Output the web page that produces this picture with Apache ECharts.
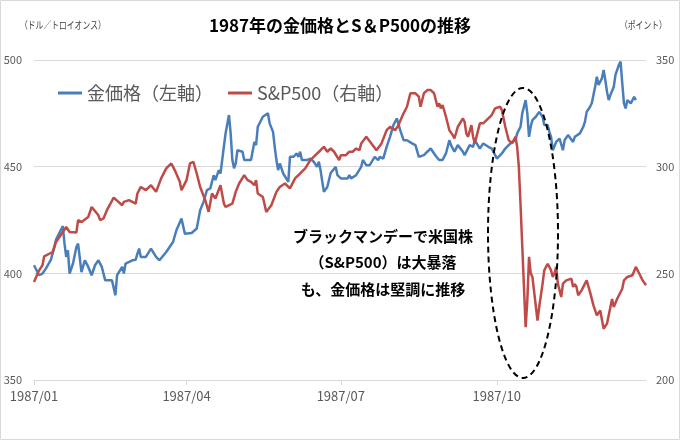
<!DOCTYPE html>
<html>
<head>
<meta charset="utf-8">
<script src="https://cdn.jsdelivr.net/npm/echarts@6/dist/echarts.min.js"></script>
<style>
html,body{margin:0;padding:0;background:#fff;}
#chart{width:680px;height:440px;}
</style>
</head>
<body>
<div id="chart"></div>
<script>
// ---- data ----
// day offsets counted from 1987/01/02 (first category)
const xTickIndex = [0, 90, 181, 273];
const xTickLabels = ['1987/01', '1987/04', '1987/07', '1987/10'];

const goldDay = [0,3,5,7,10,12,13,17,18,19,20,21,23,25,26,28,30,32,34,36,38,40,42,46,48,49,52,53,54,58,60,61,62,63,66,69,72,74,78,82,84,87,89,93,96,98,100,102,104,106,107,109,110,111,113,115,116,117,118,119,120,123,124,128,130,131,132,135,138,139,141,142,143,144,145,147,150,151,153,155,156,157,158,161,163,165,167,168,169,171,173,175,176,178,179,181,185,186,187,190,193,194,196,198,201,203,204,206,208,210,212,214,216,218,220,223,225,227,228,230,232,234,237,239,241,243,245,246,248,250,253,254,257,259,260,263,265,268,270,272,273,274,276,278,280,282,284,285,287,288,290,291,292,293,294,296,298,300,301,303,304,305,306,308,310,312,313,315,318,319,320,322,324,325,326,328,329,330,331,332,333,335,336,337,338,339,340,341,342,343,345,346,347,348,349,350,352,353,354,355];
const goldValue = [403.8,399.1,399.9,402.2,406.4,412.3,415.8,422.1,413.9,407.7,410.8,399.9,404.6,412.3,413.9,400.6,406.1,403.0,399.1,403.8,406.1,403.0,396.7,396.7,389.7,399.1,403.0,399.9,404.6,406.1,406.4,409.2,411.6,407.7,407.7,411.6,407.7,406.1,410.0,414.7,420.2,425.7,418.6,418.9,421.0,429.6,433.5,439.0,439.8,446.0,443.7,448.4,446.8,453.1,465.6,474.2,465.6,453.1,449.2,451.5,457.7,457.0,453.1,453.1,461.6,460.1,468.7,473.4,475.0,470.3,466.3,459.3,453.1,448.4,451.5,446.8,442.9,454.6,454.6,456.2,454.6,457.0,453.1,453.1,453.8,452.3,449.9,452.3,448.4,438.2,440.5,447.0,446.8,449.9,446.0,444.5,444.5,446.0,444.5,446.0,449.9,453.1,450.7,450.7,454.6,453.1,454.6,453.8,459.3,464.0,469.5,472.6,467.1,462.4,462.4,460.9,460.1,454.6,453.8,455.4,457.0,458.5,455.0,453.1,453.1,456.2,462.4,460.1,457.0,460.1,457.0,455.4,460.1,459.3,462.4,458.5,460.9,459.3,458.5,455.4,453.8,453.8,456.2,458.5,460.1,461.6,462.4,465.6,468.7,475.0,481.2,475.0,464.0,468.7,471.8,473.4,475.7,473.4,469.5,469.5,466.3,464.0,457.7,461.6,463.2,457.7,462.4,464.8,461.6,464.0,463.2,465.6,468.7,471.1,475.7,478.1,479.7,483.6,487.5,492.2,488.3,491.4,495.3,490.6,485.1,481.2,483.6,484.4,487.5,493.0,497.7,499.2,489.1,479.7,477.3,481.2,479.7,481.2,482.8,481.2];

const spDay = [0,3,5,6,11,13,17,19,21,25,26,28,32,34,38,39,41,43,47,48,52,53,56,60,61,63,66,69,72,75,78,81,83,86,87,90,92,94,96,98,101,103,105,107,110,112,113,117,119,121,124,126,128,130,131,132,135,137,138,140,143,145,148,151,154,157,160,163,166,169,171,173,175,177,180,181,184,186,188,190,192,193,196,199,202,205,208,210,213,215,218,220,222,225,227,228,230,232,234,236,238,239,240,241,243,245,247,248,250,253,254,255,256,258,259,260,261,263,265,268,270,272,275,276,278,280,282,283,284,285,286,287,290,291,292,293,294,297,298,299,300,301,302,303,304,305,306,307,308,309,311,312,314,317,318,319,320,321,323,325,326,328,330,332,334,336,338,340,341,342,344,347,348,350,353,355,357,359,361];
const spValue = [245.9,251.4,253.8,258.0,260.0,264.7,269.4,271.7,269.4,269.1,274.9,274.1,276.4,281.1,277.2,274.9,275.7,279.6,285.5,285.5,281.9,283.5,284.3,282.7,287.4,290.5,289.0,291.3,288.2,294.5,299.2,301.5,298.4,292.9,289.0,293.7,301.5,302.3,296.8,290.5,284.3,278.8,287.4,285.1,291.3,282.7,281.1,282.7,288.2,292.1,296.0,293.7,292.9,291.3,293.7,287.4,285.8,278.8,278.0,281.9,288.2,290.5,292.1,289.8,294.5,296.8,299.2,303.1,305.4,307.7,309.3,307.0,308.5,307.0,303.1,305.4,305.4,307.0,307.0,308.5,307.7,310.9,314.0,310.9,307.7,310.9,317.1,318.7,317.1,319.5,325.0,328.1,334.4,334.4,332.8,328.1,334.4,335.9,335.9,334.4,328.1,329.7,327.3,328.9,323.4,317.1,314.8,313.2,318.7,322.6,321.0,315.6,314.0,319.5,314.0,310.9,311.6,320.3,320.3,322.6,324.2,327.3,328.1,326.5,318.7,312.4,310.9,310.1,314.0,309.3,299.9,282.0,224.8,237.3,257.7,250.0,248.3,227.9,234.2,233.5,245.2,251.4,253.0,254.5,255.3,251.4,248.3,249.9,253.0,245.2,238.9,245.2,246.7,247.5,243.6,245.0,243.6,239.7,242.0,245.2,246.7,241.2,235.0,230.3,232.6,224.0,226.4,234.2,238.0,234.2,238.1,242.8,246.7,248.3,249.1,253.0,249.9,246.7,244.4];

// categories: every calendar day 1987/01/02 .. 1987/12/29
const categories = [];
(function () {
  const d = new Date(Date.UTC(1987, 0, 2));
  const end = Date.UTC(1987, 11, 29);
  while (d.getTime() <= end) {
    const m = String(d.getUTCMonth() + 1).padStart(2, '0');
    const dd = String(d.getUTCDate()).padStart(2, '0');
    categories.push('1987/' + m + '/' + dd);
    d.setUTCDate(d.getUTCDate() + 1);
  }
})();

function toSeries(days, vals) {
  const arr = new Array(categories.length).fill(null);
  days.forEach((d, i) => { arr[d] = vals[i]; });
  return arr;
}

const FONT = '"Noto Sans CJK JP", "Noto Sans", sans-serif';
const chart = echarts.init(document.getElementById('chart'), null, {renderer: 'canvas'});

const option = {
  backgroundColor: '#ffffff',
  animation: false,
  title: {
    text: '1987年の金価格とS＆P500の推移',
    left: 'center',
    top: 12,
    textStyle: {fontFamily: FONT, fontSize: 17, fontWeight: 'bold', color: '#000000'}
  },
  legend: {
    left: 53,
    top: 79,
    icon: 'rect',
    itemWidth: 24,
    itemHeight: 3,
    itemGap: 15,
    textStyle: {fontFamily: FONT, fontSize: 18, color: '#595959'},
    data: ['金価格（左軸）', 'S&P500（右軸）']
  },
  grid: {left: 34, right: 34, top: 60, bottom: 60, containLabel: false},
  xAxis: {
    type: 'category',
    data: categories,
    boundaryGap: false,
    axisLine: {lineStyle: {color: '#d9d9d9', width: 1}},
    axisTick: {
      show: true,
      length: 5,
      lineStyle: {color: '#d9d9d9'},
      interval: function (idx) { return xTickIndex.indexOf(idx) >= 0; }
    },
    axisLabel: {
      interval: function (idx) { return xTickIndex.indexOf(idx) >= 0; },
      formatter: function (v, idx) {
        const k = xTickIndex.indexOf(idx);
        return k >= 0 ? xTickLabels[k] : '';
      },
      fontFamily: FONT,
      fontSize: 13,
      color: '#595959',
      margin: 10
    },
    splitLine: {show: false}
  },
  yAxis: [
    {
      type: 'value', min: 350, max: 500, interval: 50,
      axisLine: {show: false}, axisTick: {show: false},
      axisLabel: {fontFamily: FONT, fontSize: 11, color: '#595959', margin: 12},
      splitLine: {lineStyle: {color: '#d9d9d9', width: 1}}
    },
    {
      type: 'value', min: 200, max: 350, interval: 50,
      axisLine: {show: false}, axisTick: {show: false},
      axisLabel: {fontFamily: FONT, fontSize: 11, color: '#595959', margin: 10},
      splitLine: {show: false}
    }
  ],
  series: [
    {
      name: '金価格（左軸）',
      type: 'line',
      yAxisIndex: 0,
      data: toSeries(goldDay, goldValue),
      connectNulls: true,
      showSymbol: false,
      symbol: 'none',
      lineStyle: {color: '#4a7ebb', width: 2.5},
      itemStyle: {color: '#4a7ebb'}
    },
    {
      name: 'S&P500（右軸）',
      type: 'line',
      yAxisIndex: 1,
      data: toSeries(spDay, spValue),
      connectNulls: true,
      showSymbol: false,
      symbol: 'none',
      lineStyle: {color: '#be4b48', width: 2.5},
      itemStyle: {color: '#be4b48'}
    }
  ],
  graphic: [
    {
      type: 'rect', silent: true, z: 0,
      shape: {x: 0.5, y: 0.5, width: 679, height: 439},
      style: {fill: 'none', stroke: '#d9d9d9', lineWidth: 1}
    },
    {
      type: 'text', left: 20, top: 20, scaleX: 0.78,
      style: {text: '（ドル／トロイオンス）', fontFamily: FONT, fontSize: 10, fill: '#404040'}
    },
    {
      type: 'text', left: 620, top: 20, scaleX: 0.78,
      style: {text: '（ポイント）', fontFamily: FONT, fontSize: 10, fill: '#404040'}
    },
    {
      type: 'text', x: 383, y: 223, z: 10,
      style: {
        text: 'ブラックマンデーで米国株\n（S&P500）は大暴落\nも、金価格は堅調に推移',
        fontFamily: FONT, fontSize: 15, fontWeight: 'bold', fill: '#000000',
        textAlign: 'center', lineHeight: 26.5
      }
    },
    {
      type: 'ellipse', z: 10, silent: true,
      shape: {cx: 523, cy: 233, rx: 35, ry: 145},
      style: {fill: 'none', stroke: '#000000', lineWidth: 2, lineDash: [6, 4]}
    }
  ]
};
chart.setOption(option);
</script>
</body>
</html>
